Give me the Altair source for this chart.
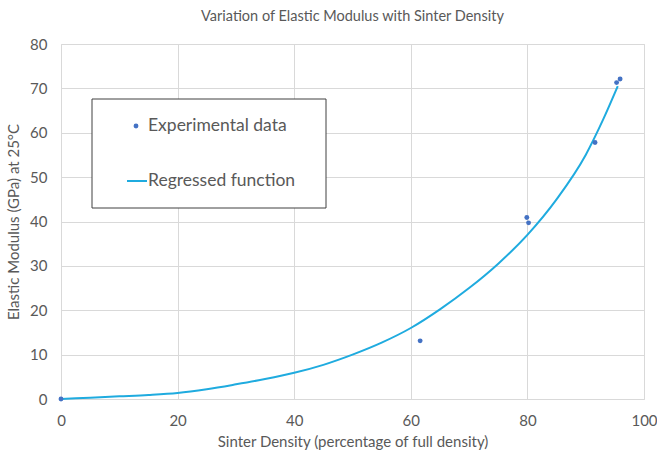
import altair as alt
import pandas as pd

exp_x = [0.0, 61.6, 79.9, 80.2, 91.6, 95.3, 95.9]
exp_y = [0.0, 13.1, 40.9, 39.7, 57.8, 71.3, 72.1]

# Regressed function curve
fit_x = [0, 5, 10, 15, 20, 25, 30, 35, 40, 45, 50, 55, 60, 65, 70, 75, 80, 85, 90, 93, 95.5]
fit_y = [0, 0.3, 0.6, 0.9, 1.35, 2.2, 3.3, 4.5, 5.9, 7.7, 10.0, 12.7, 16.0, 20.2, 25.0, 30.5, 37.0, 45.0, 55.0, 63.0, 70.5]

x_ticks = [0, 20, 40, 60, 80, 100]
y_ticks = [0, 10, 20, 30, 40, 50, 60, 70, 80]

legend_labels = ["Experimental data", "Regressed function"]

FONT = "Lato"
GRAY = "#595959"
PT_COLOR = "#4472C4"
LN_COLOR = "#1FABDF"

exp_df = pd.DataFrame({"x": exp_x, "y": exp_y})
fit_df = pd.DataFrame({"x": fit_x, "y": fit_y})

xs = alt.Scale(domain=[0, 100], nice=False, zero=False)
ys = alt.Scale(domain=[0, 80], nice=False, zero=False)

xaxis = alt.Axis(values=x_ticks, title="Sinter Density (percentage of full density)",
                 grid=True, gridColor="#D9D9D9", domain=False, ticks=False, labelFlush=False,
                 labelPadding=14, labelFontSize=15, labelColor=GRAY, labelFont=FONT,
                 titleFont=FONT, titleFontSize=15, titleColor=GRAY, titleFontWeight="normal",
                 titlePadding=6)
yaxis = alt.Axis(values=y_ticks, title="Elastic Modulus (GPa) at 25°C",
                 grid=True, gridColor="#D9D9D9", domain=False, ticks=False, labelFlush=False,
                 labelPadding=14, labelFontSize=15, labelColor=GRAY, labelFont=FONT,
                 titleFont=FONT, titleFontSize=15, titleColor=GRAY, titleFontWeight="normal",
                 titlePadding=8)

line = alt.Chart(fit_df).mark_line(color=LN_COLOR, strokeWidth=2, interpolate="monotone").encode(
    x=alt.X("x:Q", scale=xs, axis=xaxis),
    y=alt.Y("y:Q", scale=ys, axis=yaxis),
)

pts = alt.Chart(exp_df).mark_circle(color=PT_COLOR, size=24, opacity=1).encode(
    x=alt.X("x:Q", scale=xs),
    y=alt.Y("y:Q", scale=ys),
)

one = pd.DataFrame({"a": [0]})

leg_box = alt.Chart(one).mark_rect(fill="white", stroke="#404040", strokeWidth=1).encode(
    x=alt.value(31), x2=alt.value(265), y=alt.value(55), y2=alt.value(164))
leg_pt = alt.Chart(one).mark_circle(color=PT_COLOR, size=24, opacity=1).encode(
    x=alt.value(75), y=alt.value(82))
leg_ln = alt.Chart(one).mark_rule(color=LN_COLOR, strokeWidth=2).encode(
    x=alt.value(66), x2=alt.value(86), y=alt.value(137))
leg_t1 = alt.Chart(one).mark_text(text=legend_labels[0], align="left", baseline="middle",
                                  font=FONT, fontSize=17.5, color=GRAY).encode(
    x=alt.value(87), y=alt.value(82))
leg_t2 = alt.Chart(one).mark_text(text=legend_labels[1], align="left", baseline="middle",
                                  font=FONT, fontSize=17.5, color=GRAY).encode(
    x=alt.value(87), y=alt.value(137))

chart = alt.layer(line, pts, leg_box, leg_pt, leg_ln, leg_t1, leg_t2).properties(
    width=583, height=355,
    title=alt.TitleParams("Variation of Elastic Modulus with Sinter Density", font=FONT,
                          fontSize=14.5, color=GRAY, fontWeight="normal", anchor="middle", offset=13),
    autosize=alt.AutoSizeParams(type="none"),
    padding={"left": 61, "top": 44, "right": 13, "bottom": 56},
).configure_view(stroke=None).configure(background="white")

chart.save("out.html", embed_options={"renderer": "svg", "actions": False})
